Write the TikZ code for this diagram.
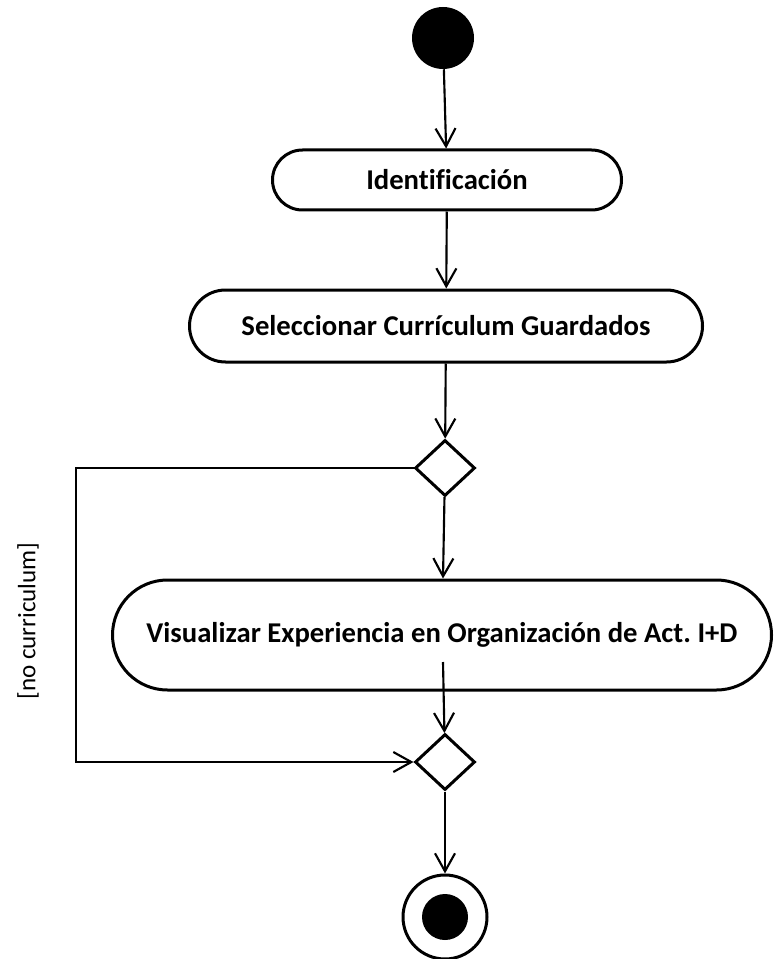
\documentclass[tikz,border=0pt]{standalone}
\usepackage{fontspec}
\setmainfont{Carlito}[Ligatures=NoCommon]
\usetikzlibrary{arrows.meta,shapes.geometric,shapes.misc}
\newdimen\pxu \pxu=0.75pt
\frenchspacing
\tikzset{
  act/.style={rounded rectangle,draw,line width=3*\pxu,inner sep=0pt,font=\bfseries\fontsize{21.5}{24}\selectfont},
  branch/.style={diamond,draw,line width=3*\pxu,inner sep=0pt,minimum width=60*\pxu,minimum height=56*\pxu},
  flow/.style={line width=1.6pt,-{Straight Barb[length=13.5pt,width=15pt,line width=1.6pt]}},
}
\begin{document}
\begin{tikzpicture}[x=\pxu,y=-\pxu]
\useasboundingbox (0,0) rectangle (774,959);
\node[circle,fill,minimum size=62*\pxu,inner sep=0pt] (start) at (443,38){};
\node[act,minimum width=349*\pxu,minimum height=60*\pxu] (ident) at (447,180){Identificación};
\node[act,minimum width=513*\pxu,minimum height=72*\pxu] (sel) at (446,326){Seleccionar Currículum Guardados};
\node[branch] (d1) at (445,468){};
\node[act,minimum width=659*\pxu,minimum height=110*\pxu] (vis) at (442,635){Visualizar Experiencia en Organización de Act. I+D};
\node[branch] (d2) at (445,762){};
\node[circle,draw,line width=3*\pxu,minimum size=84*\pxu,inner sep=0pt] (fin) at (445,917){};
\node[circle,fill,minimum size=46*\pxu,inner sep=0pt] (finin) at (fin.center){};
\node[rotate=90,font=\fontsize{18.8}{21}\selectfont] (guard) at (28,621){[no curriculum]};
\coordinate (c1) at (76,468);\coordinate (visout) at (443,662);
\draw[flow] (start)--(ident);\draw[flow] (ident)--(sel);\draw[flow] (sel)--(d1);
\draw[flow] (d1)--(vis);\draw[flow] (visout)--(d2);\draw[flow] (d2)--(fin);
\draw[flow] (d1.west)--(c1)|-(d2.west);
\end{tikzpicture}
\end{document}
